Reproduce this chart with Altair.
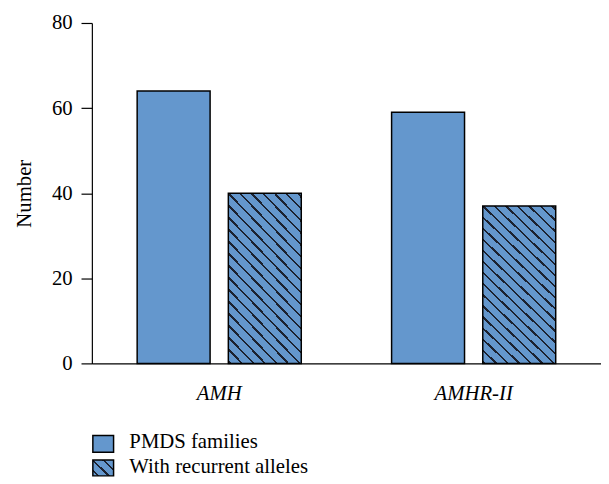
import altair as alt
import pandas as pd

categories = ["AMH", "AMHR-II"]
series = ["PMDS families", "With recurrent alleles"]
pmds_values = [64, 59]
recurrent_values = [40, 37]
y_ticks = [0, 20, 40, 60, 80]

rows = []
for i, c in enumerate(categories):
    rows.append({"gene": c, "series": series[0], "value": pmds_values[i]})
    rows.append({"gene": c, "series": series[1], "value": recurrent_values[i]})
df = pd.DataFrame(rows)

BLUE = "#6497cd"
DARK = "#1c2230"
FONT = "Liberation Serif"
FS = 21
W, H = 516, 345


def hatch(w, h, period=11.7, thick=1.7):
    total = w + h
    t = total / (w * w + h * h)
    d = thick * (2 ** 0.5) / 2 / total
    stops = [{"offset": 0, "color": BLUE}]
    k = -int(h / period) - 1
    while True:
        c = (h + k * period) / total
        k += 1
        if c - d <= 0:
            continue
        if c + d >= 1:
            break
        stops += [
            {"offset": round(c - d, 5), "color": BLUE},
            {"offset": round(c - d, 5), "color": DARK},
            {"offset": round(c + d, 5), "color": DARK},
            {"offset": round(c + d, 5), "color": BLUE},
        ]
    stops.append({"offset": 1, "color": BLUE})
    return {
        "gradient": "linear",
        "x1": 0, "y1": 1,
        "x2": round(w * t, 5), "y2": round(1 - h * t, 5),
        "stops": stops,
    }


bar_hatch = hatch(74, 166)
legend_hatch = hatch(22, 17, period=11.0)

bars = alt.Chart(df).mark_bar(stroke="black", strokeWidth=1.5).encode(
    x=alt.X(
        "gene:N", sort=categories,
        scale=alt.Scale(paddingInner=0.355, paddingOuter=0.178),
        axis=alt.Axis(title=None, labelAngle=0, ticks=False, labelFontStyle="italic",
                      labelPadding=20, labelFontSize=FS, labelFont=FONT, labelColor="black",
                      domainColor="black", domainWidth=1.2),
    ),
    xOffset=alt.XOffset("series:N", sort=series,
                        scale=alt.Scale(paddingInner=0.2, paddingOuter=0)),
    y=alt.Y(
        "value:Q", scale=alt.Scale(domain=[0, 80]),
        axis=alt.Axis(values=y_ticks, title="Number", grid=False, tickSize=11,
                      tickColor="black", tickWidth=1.2, domainColor="black", domainWidth=1.2,
                      labelFont=FONT, labelFontSize=FS, labelColor="black", labelPadding=9,
                      titleFont=FONT, titleFontSize=FS, titleFontWeight="normal",
                      titleColor="black", titlePadding=17),
    ),
    fill=alt.condition(f"datum.series === '{series[1]}'", alt.value(bar_hatch), alt.value(BLUE)),
)

leg_df = pd.DataFrame({"series": series})

leg1_box = alt.Chart(leg_df).transform_filter(f"datum.series === '{series[0]}'").mark_rect(
    stroke="black", strokeWidth=1.5, fill=BLUE
).encode(x=alt.value(1), x2=alt.value(22), y=alt.value(418), y2=alt.value(435))
leg2_box = alt.Chart(leg_df).transform_filter(f"datum.series === '{series[1]}'").mark_rect(
    stroke="black", strokeWidth=1.5, fill=legend_hatch
).encode(x=alt.value(1), x2=alt.value(22), y=alt.value(443), y2=alt.value(459))
leg1_txt = alt.Chart(leg_df).transform_filter(f"datum.series === '{series[0]}'").mark_text(
    font=FONT, fontSize=FS, align="left", baseline="alphabetic", color="black"
).encode(x=alt.value(38), y=alt.value(431), text="series:N")
leg2_txt = alt.Chart(leg_df).transform_filter(f"datum.series === '{series[1]}'").mark_text(
    font=FONT, fontSize=FS, align="left", baseline="alphabetic", color="black"
).encode(x=alt.value(38), y=alt.value(456), text="series:N")

chart = alt.layer(bars, leg1_box, leg2_box, leg1_txt, leg2_txt).properties(
    width=W, height=H,
    autosize=alt.AutoSizeParams(type="none"),
    padding={"left": 85, "top": 12, "right": 0, "bottom": 116},
).configure_view(stroke=None)

chart.save("out.html", embed_options={"renderer": "svg", "actions": False})
